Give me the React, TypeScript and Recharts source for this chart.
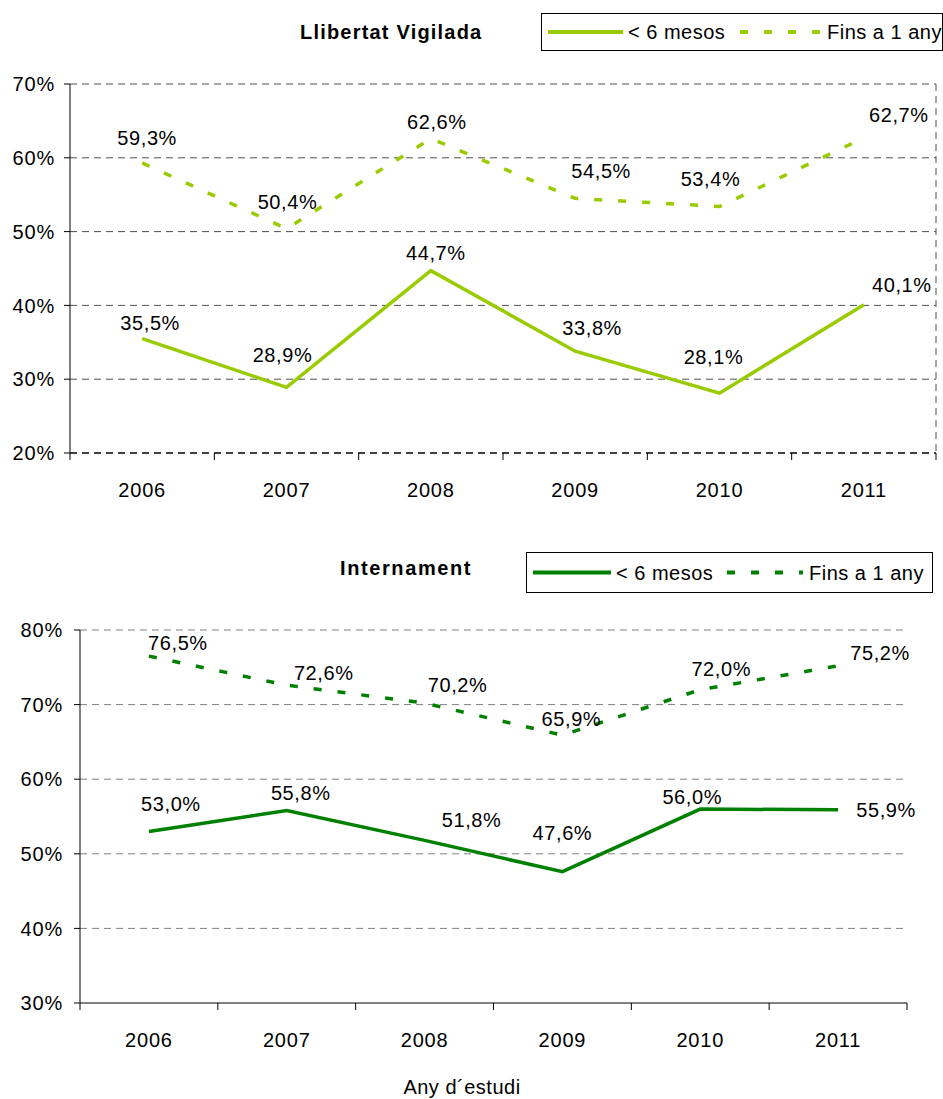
import React from 'react';
import { LineChart, Line, XAxis, YAxis, CartesianGrid, LabelList } from 'recharts';

const years = ['2006', '2007', '2008', '2009', '2010', '2011'];
const lvMenys6 = [35.5, 28.9, 44.7, 33.8, 28.1, 40.1];
const lvFins1 = [59.3, 50.4, 62.6, 54.5, 53.4, 62.7];
const intMenys6 = [53.0, 55.8, 51.8, 47.6, 56.0, 55.9];
const intFins1 = [76.5, 72.6, 70.2, 65.9, 72.0, 75.2];
const lvTicks = [20, 30, 40, 50, 60, 70];
const intTicks = [30, 40, 50, 60, 70, 80];
const seriesNames = ['< 6 mesos', 'Fins a 1 any'];
const chartTitles = ['Llibertat Vigilada', 'Internament'];
const xAxisTitle = 'Any d´estudi';

const lvData = years.map((y, i) => ({ year: y, m6: lvMenys6[i], f1: lvFins1[i] }));
const intData = years.map((y, i) => ({ year: y, m6: intMenys6[i], f1: intFins1[i] }));

// label offsets (styling)
const lvF1Off = [[5, -25], [1, -27], [6, -17], [26, -27], [-9, -28], [35, -23]];
const lvM6Off = [[8, -16], [-4, -32], [5, -18], [17, -23], [-6, -36], [38, -20]];
const intF1Off = [[29, -13], [37, -12], [33, -18], [9, -16], [21, -21], [42, -13]];
const intM6Off = [[22, -27], [14, -18], [47, -20], [0, -39], [-8, -12], [48, 0]];

const FONT = '"Liberation Sans", Arial, sans-serif';
const LIGHT = '#99CC00';
const DARK = '#008000';
const DASH = '8 16';

const fmt = (v: number) => v.toFixed(1).replace('.', ',') + '%';

const makeLabel = (offs: number[][]) => (props: any) => {
  const { x, y, value, index } = props;
  const o = offs[index] || [0, 0];
  return (
    <text
      x={x + o[0]}
      y={y + o[1]}
      textAnchor="middle"
      dominantBaseline="central"
      fontFamily={FONT}
      fontSize={20}
      letterSpacing={0.6}
      fill="#000"
    >
      {fmt(value)}
    </text>
  );
};

const makeXTick = (bw: number, count: number) => (props: any) => {
  const { x, y, payload, index } = props;
  return (
    <g>
      <line x1={x - bw / 2} y1={y} x2={x - bw / 2} y2={y + 7} stroke="#000" strokeWidth={1} />
      {index === count - 1 && (
        <line x1={x + bw / 2} y1={y} x2={x + bw / 2} y2={y + 7} stroke="#000" strokeWidth={1} />
      )}
      <text
        x={x}
        y={y + 37}
        textAnchor="middle"
        dominantBaseline="central"
        fontFamily={FONT}
        fontSize={20}
        letterSpacing={0.8}
        fill="#000"
      >
        {payload.value}
      </text>
    </g>
  );
};

const yTickStyle = { fill: '#000', fontSize: 20, fontFamily: FONT, letterSpacing: 0.8 };

function LegendBox(props: { left: number; top: number; width: number; height: number; color: string; pts: number[] }) {
  const { left, top, width, height, color, pts } = props;
  const cy = height / 2;
  return (
    <div
      style={{
        position: 'absolute',
        left,
        top,
        width,
        height,
        border: '1px solid #000',
        boxSizing: 'border-box',
        background: '#fff',
      }}
    >
      <svg width={width} height={height} style={{ position: 'absolute', left: -1, top: -1 }}>
        <line x1={pts[0]} y1={cy} x2={pts[1]} y2={cy} stroke={color} strokeWidth={4} />
        <text x={pts[2]} y={cy} dominantBaseline="central" fontFamily={FONT} fontSize={20} letterSpacing={0.5} fill="#000">
          {seriesNames[0]}
        </text>
        <line x1={pts[3]} y1={cy} x2={pts[4]} y2={cy} stroke={color} strokeWidth={4} strokeDasharray="8 16" />
        <text x={pts[5]} y={cy} dominantBaseline="central" fontFamily={FONT} fontSize={20} letterSpacing={0.5} fill="#000">
          {seriesNames[1]}
        </text>
      </svg>
    </div>
  );
}

export default function App() {
  const topBw = (943 - 70 - 7) / 6;
  const botBw = (943 - 80 - 36) / 6;
  return (
    <div style={{ position: 'absolute', left: 0, top: 0, width: 943, height: 1099, background: '#fff', overflow: 'hidden' }}>
      {/* Top chart */}
      <div style={{ position: 'absolute', left: 0, top: 0 }}>
        <LineChart width={943} height={520} data={lvData} margin={{ top: 84, right: 7, left: 0, bottom: 17 }}>
          <CartesianGrid
            stroke="#505050"
            strokeDasharray="7 5"
            verticalCoordinatesGenerator={(p: any) => [p.offset.left + p.offset.width]}
          />
          <XAxis
            dataKey="year"
            scale="band"
            height={50}
            tickLine={false}
            tickSize={0}
            tickMargin={0}
            interval={0}
            axisLine={{ stroke: '#404040', strokeDasharray: '7 5', strokeWidth: 2 }}
            tick={makeXTick(topBw, years.length)}
          />
          <YAxis
            width={70}
            domain={[20, 70]}
            ticks={lvTicks}
            interval={0}
            tickSize={6}
            tickMargin={9}
            axisLine={{ stroke: '#000' }}
            tickLine={{ stroke: '#000' }}
            tick={yTickStyle}
            tickFormatter={(v: number) => `${v}%`}
          />
          <Line
            type="linear"
            dataKey="f1"
            stroke={LIGHT}
            strokeWidth={3.5}
            strokeDasharray={DASH}
            dot={false}
            isAnimationActive={false}
          >
            <LabelList dataKey="f1" content={makeLabel(lvF1Off)} />
          </Line>
          <Line type="linear" dataKey="m6" stroke={LIGHT} strokeWidth={3.5} dot={false} isAnimationActive={false}>
            <LabelList dataKey="m6" content={makeLabel(lvM6Off)} />
          </Line>
        </LineChart>
      </div>
      <div
        style={{
          position: 'absolute',
          left: 300,
          top: 20,
          fontFamily: FONT,
          fontSize: 20,
          fontWeight: 'bold',
          letterSpacing: 1.2,
          lineHeight: '24px',
          whiteSpace: 'nowrap',
          color: '#000',
        }}
      >
        {chartTitles[0]}
      </div>
      <LegendBox left={541} top={13} width={402} height={38} color={LIGHT} pts={[7, 82, 87, 199, 282, 286]} />

      {/* Bottom chart */}
      <div style={{ position: 'absolute', left: 0, top: 600 }}>
        <LineChart width={943} height={499} data={intData} margin={{ top: 30, right: 36, left: 0, bottom: 46 }}>
          <CartesianGrid vertical={false} stroke="#808080" strokeDasharray="7 5" />
          <XAxis
            dataKey="year"
            scale="band"
            height={50}
            tickLine={false}
            tickSize={0}
            tickMargin={0}
            interval={0}
            axisLine={{ stroke: '#808080', strokeWidth: 2 }}
            tick={makeXTick(botBw, years.length)}
          />
          <YAxis
            width={80}
            domain={[30, 80]}
            ticks={intTicks}
            interval={0}
            tickSize={6}
            tickMargin={11}
            axisLine={{ stroke: '#000' }}
            tickLine={{ stroke: '#000' }}
            tick={yTickStyle}
            tickFormatter={(v: number) => `${v}%`}
          />
          <Line
            type="linear"
            dataKey="f1"
            stroke={DARK}
            strokeWidth={3.5}
            strokeDasharray={DASH}
            dot={false}
            isAnimationActive={false}
          >
            <LabelList dataKey="f1" content={makeLabel(intF1Off)} />
          </Line>
          <Line type="linear" dataKey="m6" stroke={DARK} strokeWidth={3.5} dot={false} isAnimationActive={false}>
            <LabelList dataKey="m6" content={makeLabel(intM6Off)} />
          </Line>
        </LineChart>
      </div>
      <div
        style={{
          position: 'absolute',
          left: 340,
          top: 556,
          fontFamily: FONT,
          fontSize: 20,
          fontWeight: 'bold',
          letterSpacing: 1.6,
          lineHeight: '24px',
          whiteSpace: 'nowrap',
          color: '#000',
        }}
      >
        {chartTitles[1]}
      </div>
      <LegendBox left={526} top={552} width={407} height={41} color={DARK} pts={[7, 85, 90, 201, 277, 283]} />
      <div
        style={{
          position: 'absolute',
          left: 0,
          width: 924,
          top: 1075,
          textAlign: 'center',
          fontFamily: FONT,
          fontSize: 20,
          letterSpacing: 0.5,
          lineHeight: '24px',
          color: '#000',
        }}
      >
        {xAxisTitle}
      </div>
    </div>
  );
}
